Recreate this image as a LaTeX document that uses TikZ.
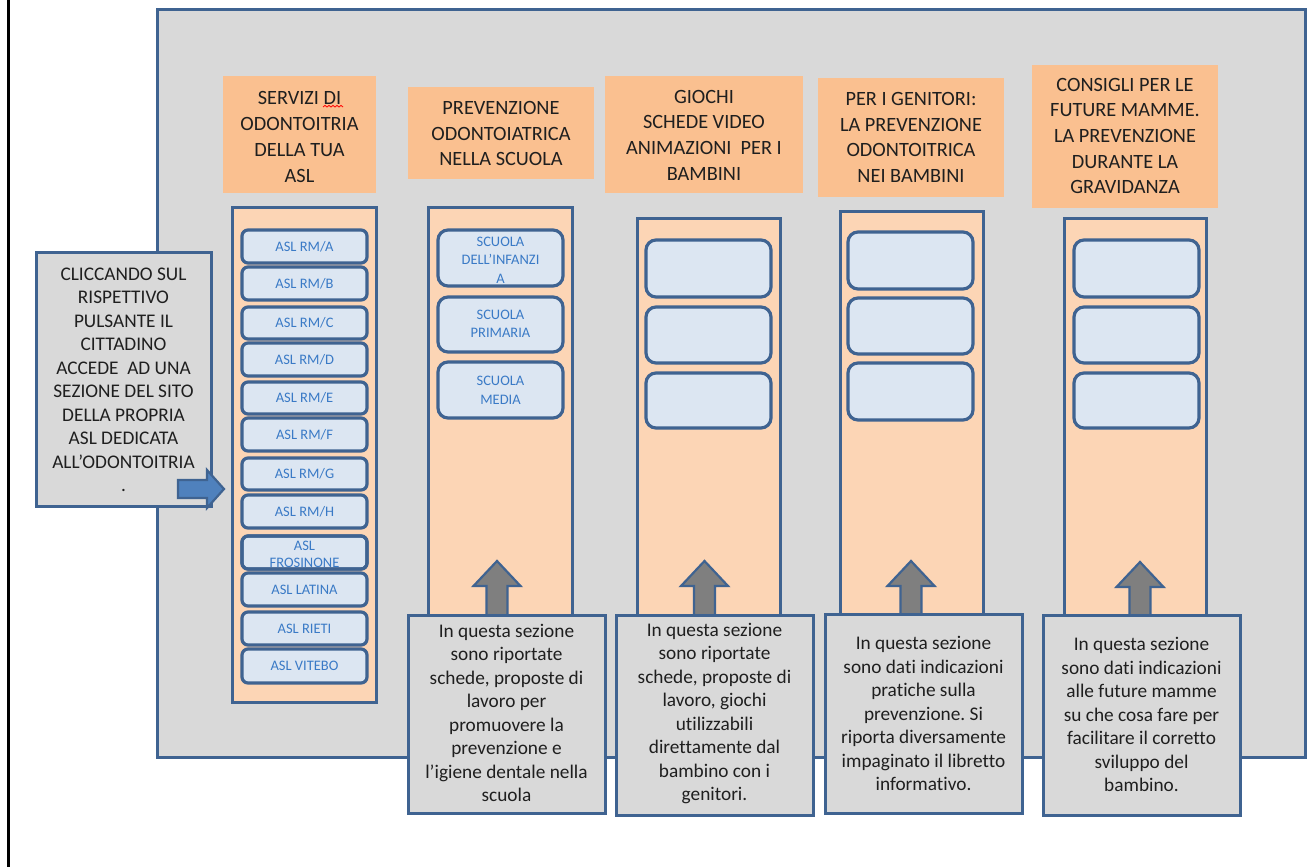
\documentclass[tikz,border=0pt]{standalone}
\usepackage{fontspec}
\setmainfont{Carlito}[Ligatures={NoCommon}]
\frenchspacing
\definecolor{bordc}{HTML}{3F6391}
\definecolor{grayc}{HTML}{D9D9D9}
\definecolor{hdrc}{HTML}{FAC090}
\definecolor{panc}{HTML}{FCD5B5}
\definecolor{btnc}{HTML}{DCE6F2}
\definecolor{btntc}{HTML}{3A7AC6}
\definecolor{arrc}{HTML}{7F7F7F}
\definecolor{bluearr}{HTML}{4F81BD}
\definecolor{txtc}{HTML}{1F1F1F}
\begin{document}
\begin{tikzpicture}[x=1pt,y=-1pt,
  frame/.style={draw=bordc, line width=3pt, fill=grayc},
  hdr/.style={fill=hdrc},
  panel/.style={fill=panc, draw=bordc, line width=3pt},
  btn/.style={fill=btnc, draw=bordc, line width=3.2pt, rounded corners=6pt},
  bigbtn/.style={fill=btnc, draw=bordc, line width=3.2pt, rounded corners=10pt},
  hdrtext/.style={align=center, font=\fontsize{20.3}{25.7}\selectfont, text=txtc, inner sep=0pt},
  bodytext/.style={align=center, font=\fontsize{19.3}{23.5}\selectfont, text=txtc, inner sep=0pt},
  btntext/.style={align=center, font=\fontsize{14.5}{17}\selectfont, text=btntc, inner sep=0pt},
  sctext/.style={align=center, font=\fontsize{14.5}{18.5}\selectfont, text=btntc, inner sep=0pt},
  uparrow/.style={fill=arrc, draw=bordc, line width=2.2pt, line join=miter},
  rarrow/.style={fill=bluearr, draw=bordc, line width=2.2pt, line join=miter}
]
\useasboundingbox (0,0) rectangle (1309,867);
\fill[white] (0,0) rectangle (1309,867);
% left black rule
\draw[line width=2.5pt, black] (8.3,0) -- (8.3,867);
% main gray frame
\draw[frame] (157,10) rectangle (1305,757);

% headers
\fill[hdr] (223,76) rectangle (376,193);
\fill[hdr] (408,87) rectangle (594,179);
\fill[hdr] (605,76) rectangle (803,193);
\fill[hdr] (818,78) rectangle (1004,197);
\fill[hdr] (1032,65) rectangle (1218,208);
\node[hdrtext] (h1) at (299.5,137) {SERVIZI DI\\ODONTOITRIA\\DELLA TUA\\ASL};
\draw[red, line width=0.8pt] (323,107) \foreach \k in {1,...,10} {-- ({323+2*\k},{107-1.6*mod(\k,2)})};
\node[hdrtext] (h2) at (501,133.5) {PREVENZIONE\\ODONTOIATRICA\\NELLA SCUOLA};
\node[hdrtext] (h3) at (704,135) {GIOCHI\\SCHEDE VIDEO\\ANIMAZIONI\ \ PER I\\BAMBINI};
\node[hdrtext] (h4) at (911,137.5) {PER I GENITORI:\\LA PREVENZIONE\\ODONTOITRICA\\NEI BAMBINI};
\node[hdrtext] (h5) at (1125,136) {CONSIGLI PER LE\\FUTURE MAMME.\\LA PREVENZIONE\\DURANTE LA\\GRAVIDANZA};

% panels
\draw[panel] (232,207) rectangle (376,702);
\draw[panel] (428,207) rectangle (572,660);
\draw[panel] (637,218) rectangle (780,660);
\draw[panel] (840,211) rectangle (983,660);
\draw[panel] (1064,218) rectangle (1206,660);

% ASL buttons
\newcommand{\aslbtn}[4]{\draw[btn] (242,#1) rectangle (367,#2); \node[btntext] (#3) at (304.5,{(#1+#2)/2}) {#4};}
\aslbtn{230}{263}{rma}{ASL RM/A}
\aslbtn{267}{300}{rmb}{ASL RM/B}
\aslbtn{307}{339}{rmc}{ASL RM/C}
\aslbtn{343}{376}{rmd}{ASL RM/D}
\aslbtn{382}{414}{rme}{ASL RM/E}
\aslbtn{418}{451}{rmf}{ASL RM/F}
\aslbtn{458}{490}{rmg}{ASL RM/G}
\aslbtn{495}{528}{rmh}{ASL RM/H}
\draw[btn] (242,536) rectangle (367,569);
\node[btntext] (fros) at (304.5,554) {ASL\\FROSINONE};
\draw[draw=bordc, line width=3.2pt, rounded corners=6pt] (242,536) rectangle (367,569);
\aslbtn{573}{606}{lat}{ASL LATINA}
\aslbtn{612}{645}{rie}{ASL RIETI}
\aslbtn{649}{683}{vit}{ASL VITEBO}

% scuola buttons
\draw[bigbtn] (438,230) rectangle (563,286);
\node[sctext] (s1) at (500.5,260) {SCUOLA\\DELL’INFANZI\\A};
\draw[bigbtn] (438,297) rectangle (563,352);
\node[sctext] (s2) at (500.5,324) {SCUOLA\\PRIMARIA};
\draw[bigbtn] (438,362) rectangle (563,418);
\node[sctext] (s3) at (500.5,390.5) {SCUOLA\\MEDIA};

% empty buttons
\draw[bigbtn] (646,240) rectangle (771,297);
\draw[bigbtn] (646,307) rectangle (771,363);
\draw[bigbtn] (646,373) rectangle (771,428);
\draw[bigbtn] (848,232) rectangle (973,289);
\draw[bigbtn] (848,298) rectangle (973,354);
\draw[bigbtn] (848,363) rectangle (973,420);
\draw[bigbtn] (1074,240) rectangle (1199,297);
\draw[bigbtn] (1074,307) rectangle (1199,363);
\draw[bigbtn] (1074,373) rectangle (1199,428);

% up arrows
\newcommand{\uparr}[2]{\draw[uparrow] (#1,#2) -- ({#1+23.5},{#2+25}) -- ({#1+10.5},{#2+25}) -- ({#1+10.5},625) -- ({#1-10.5},625) -- ({#1-10.5},{#2+25}) -- ({#1-23.5},{#2+25}) -- cycle;}
\uparr{497}{561}
\uparr{704.5}{561}
\uparr{911}{561}
\uparr{1140}{562}

% text boxes
\draw[frame] (408,615) rectangle (605,813);
\node[bodytext] (t1) at (506.5,713) {In questa sezione\\sono riportate\\schede, proposte di\\lavoro per\\promuovere la\\prevenzione e\\l’igiene dentale nella\\scuola};
\draw[frame] (616,615) rectangle (813,815);
\node[bodytext] (t2) at (714.5,713.5) {In questa sezione\\sono riportate\\schede, proposte di\\lavoro, giochi\\utilizzabili\\direttamente dal\\bambino con i\\genitori.};
\draw[frame] (825,614) rectangle (1022,813);
\node[bodytext] (t3) at (923.5,713.5) {In questa sezione\\sono dati indicazioni\\pratiche sulla\\prevenzione. Si\\riporta diversamente\\impaginato il libretto\\informativo.};
\draw[frame] (1043,615) rectangle (1240,815);
\node[bodytext] (t4) at (1141.5,714.5) {In questa sezione\\sono dati indicazioni\\alle future mamme\\su che cosa fare per\\facilitare il corretto\\sviluppo del\\bambino.};

% left box
\draw[frame] (36,252) rectangle (211,506);
\node[bodytext] (lt) at (123.5,380) {CLICCANDO SUL\\RISPETTIVO\\PULSANTE IL\\CITTADINO\\ACCEDE\ \ AD UNA\\SEZIONE DEL SITO\\DELLA PROPRIA\\ASL DEDICATA\\ALL’ODONTOITRIA\\.};
\draw[rarrow] (178,480) -- (207,480) -- (207,470) -- (224,489) -- (207,508) -- (207,498) -- (178,498) -- cycle;
\end{tikzpicture}
\end{document}
